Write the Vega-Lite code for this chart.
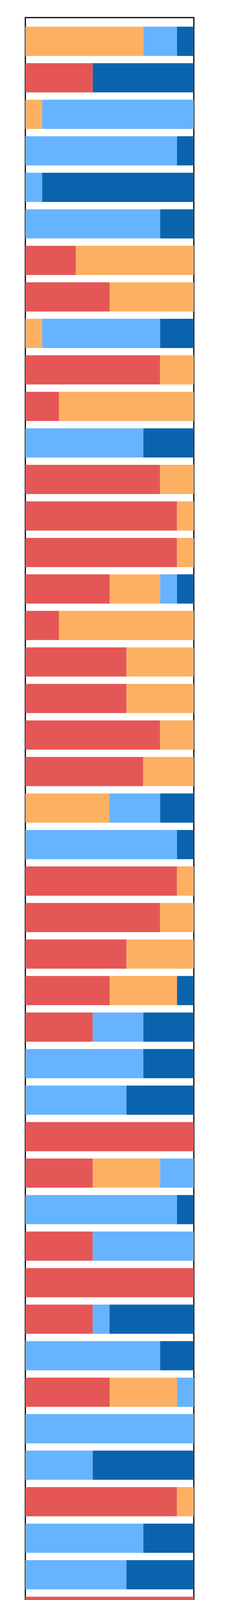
{
  "$schema": "https://vega.github.io/schema/vega-lite/v6.json",
  "autosize": "none",
  "width": 432,
  "height": 5823,
  "padding": {"left": 65, "top": 45, "right": 103, "bottom": 132},
  "background": "white",
  "config": {"view": {"stroke": "black", "strokeWidth": 3}},
  "data": {"values": [
    {"b":1,"c":"b","v":70},{"b":1,"c":"c","v":20},{"b":1,"c":"d","v":10},
    {"b":2,"c":"a","v":40},{"b":2,"c":"d","v":60},
    {"b":3,"c":"b","v":10},{"b":3,"c":"c","v":90},
    {"b":4,"c":"c","v":90},{"b":4,"c":"d","v":10},
    {"b":5,"c":"c","v":10},{"b":5,"c":"d","v":90},
    {"b":6,"c":"c","v":80},{"b":6,"c":"d","v":20},
    {"b":7,"c":"a","v":30},{"b":7,"c":"b","v":70},
    {"b":8,"c":"a","v":50},{"b":8,"c":"b","v":50},
    {"b":9,"c":"b","v":10},{"b":9,"c":"c","v":70},{"b":9,"c":"d","v":20},
    {"b":10,"c":"a","v":80},{"b":10,"c":"b","v":20},
    {"b":11,"c":"a","v":20},{"b":11,"c":"b","v":80},
    {"b":12,"c":"c","v":70},{"b":12,"c":"d","v":30},
    {"b":13,"c":"a","v":80},{"b":13,"c":"b","v":20},
    {"b":14,"c":"a","v":90},{"b":14,"c":"b","v":10},
    {"b":15,"c":"a","v":90},{"b":15,"c":"b","v":10},
    {"b":16,"c":"a","v":50},{"b":16,"c":"b","v":30},{"b":16,"c":"c","v":10},{"b":16,"c":"d","v":10},
    {"b":17,"c":"a","v":20},{"b":17,"c":"b","v":80},
    {"b":18,"c":"a","v":60},{"b":18,"c":"b","v":40},
    {"b":19,"c":"a","v":60},{"b":19,"c":"b","v":40},
    {"b":20,"c":"a","v":80},{"b":20,"c":"b","v":20},
    {"b":21,"c":"a","v":70},{"b":21,"c":"b","v":30},
    {"b":22,"c":"b","v":50},{"b":22,"c":"c","v":30},{"b":22,"c":"d","v":20},
    {"b":23,"c":"c","v":90},{"b":23,"c":"d","v":10},
    {"b":24,"c":"a","v":90},{"b":24,"c":"b","v":10},
    {"b":25,"c":"a","v":80},{"b":25,"c":"b","v":20},
    {"b":26,"c":"a","v":60},{"b":26,"c":"b","v":40},
    {"b":27,"c":"a","v":50},{"b":27,"c":"b","v":40},{"b":27,"c":"d","v":10},
    {"b":28,"c":"a","v":40},{"b":28,"c":"c","v":30},{"b":28,"c":"d","v":30},
    {"b":29,"c":"c","v":70},{"b":29,"c":"d","v":30},
    {"b":30,"c":"c","v":60},{"b":30,"c":"d","v":40},
    {"b":31,"c":"a","v":100},
    {"b":32,"c":"a","v":40},{"b":32,"c":"b","v":40},{"b":32,"c":"c","v":20},
    {"b":33,"c":"c","v":90},{"b":33,"c":"d","v":10},
    {"b":34,"c":"a","v":40},{"b":34,"c":"c","v":60},
    {"b":35,"c":"a","v":100},
    {"b":36,"c":"a","v":40},{"b":36,"c":"c","v":10},{"b":36,"c":"d","v":50},
    {"b":37,"c":"c","v":80},{"b":37,"c":"d","v":20},
    {"b":38,"c":"a","v":50},{"b":38,"c":"b","v":40},{"b":38,"c":"c","v":10},
    {"b":39,"c":"c","v":100},
    {"b":40,"c":"c","v":40},{"b":40,"c":"d","v":60},
    {"b":41,"c":"a","v":90},{"b":41,"c":"b","v":10},
    {"b":42,"c":"c","v":70},{"b":42,"c":"d","v":30},
    {"b":43,"c":"c","v":60},{"b":43,"c":"d","v":40},
    {"b":44,"c":"a","v":100},
    {"b":45,"c":"a","v":10},{"b":45,"c":"c","v":50},{"b":45,"c":"d","v":40},
    {"b":46,"c":"a","v":100},
    {"b":47,"c":"a","v":40},{"b":47,"c":"c","v":50},{"b":47,"c":"d","v":10},
    {"b":48,"c":"a","v":30},{"b":48,"c":"c","v":40},{"b":48,"c":"d","v":30},
    {"b":49,"c":"c","v":30},{"b":49,"c":"d","v":70},
    {"b":50,"c":"a","v":20},{"b":50,"c":"c","v":70},{"b":50,"c":"d","v":10},
    {"b":51,"c":"a","v":60},{"b":51,"c":"b","v":20},{"b":51,"c":"c","v":20},
    {"b":52,"c":"c","v":80},{"b":52,"c":"d","v":20},
    {"b":53,"c":"c","v":90},{"b":53,"c":"d","v":10},
    {"b":54,"c":"c","v":40},{"b":54,"c":"d","v":60},
    {"b":55,"c":"c","v":70},{"b":55,"c":"d","v":30},
    {"b":56,"c":"c","v":80},{"b":56,"c":"d","v":20},
    {"b":57,"c":"a","v":90},{"b":57,"c":"b","v":10},
    {"b":58,"c":"c","v":90},{"b":58,"c":"d","v":10},
    {"b":59,"c":"a","v":40},{"b":59,"c":"d","v":60},
    {"b":60,"c":"a","v":20},{"b":60,"c":"b","v":80},
    {"b":61,"c":"a","v":80},{"b":61,"c":"d","v":20},
    {"b":62,"c":"c","v":40},{"b":62,"c":"d","v":60}
  ]},
  "mark": {"type": "bar"},
  "encoding": {
    "y": {"field": "b", "type": "ordinal", "axis": null,
          "scale": {"paddingInner": 0.2, "paddingOuter": 0.25}},
    "x": {"field": "v", "type": "quantitative", "stack": "zero",
          "scale": {"domain": [0, 100], "nice": false},
          "axis": {"values": [0, 100], "title": null, "grid": false, "domain": false,
                   "tickSize": 15, "tickWidth": 3, "tickColor": "black",
                   "labelFontSize": 48, "labelFont": "DejaVu Sans", "labelColor": "black",
                   "labelPadding": 6, "labelFlush": false}},
    "color": {"field": "c", "type": "nominal", "legend": null,
              "scale": {"domain": ["a", "b", "c", "d"],
                        "range": ["#E45756", "#FDB062", "#66B3FF", "#0A64AD"]}},
    "order": {"field": "c"}
  }
}
